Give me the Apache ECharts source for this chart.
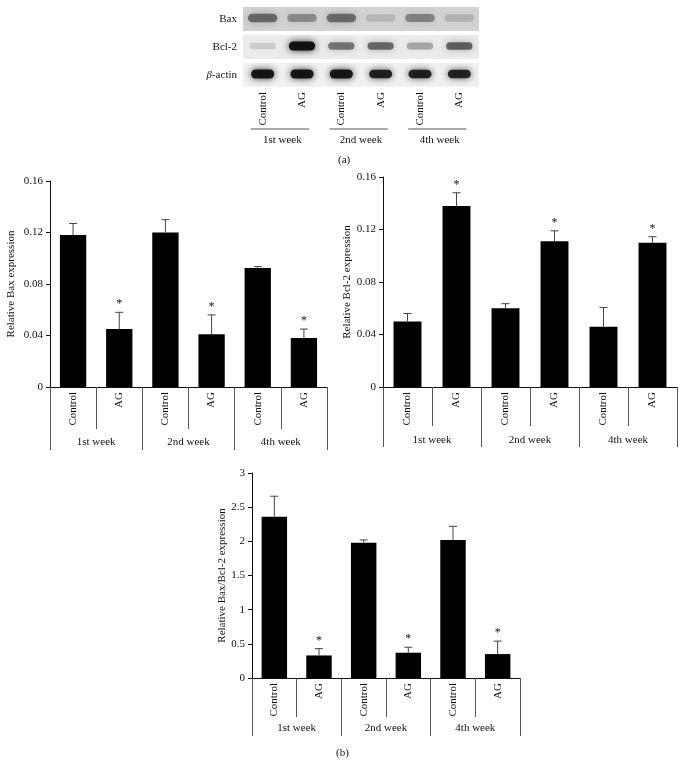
<!DOCTYPE html>
<html>
<head>
<meta charset="utf-8">
<script src="https://cdn.jsdelivr.net/npm/echarts@6/dist/echarts.min.js"></script>
<style>
  html, body { margin: 0; background: #fff; }
  #chart { width: 685px; height: 773px; }
</style>
</head>
<body>
<div id="chart"></div>
<script>
// lanes / groups shared by the blot and the three bar charts
const lanes = ["Control", "AG", "Control", "AG", "Control", "AG"];
const weeks = ["1st week", "2nd week", "4th week"];
const blotRows = ["Bax", "Bcl-2", "β-actin"];

// western blot band darkness (0..1), one value per lane
const baxBand = [0.5, 0.34, 0.48, 0.14, 0.38, 0.16];
const bclBand = [0.14, 0.98, 0.5, 0.55, 0.3, 0.58];
const actinBand = [0.95, 0.95, 0.95, 0.88, 0.9, 0.86];
const rowShade = ["#d2d2d2", "#ebebeb", "#f1f1f1"];

// bar heights and top of error bars
const baxMean = [0.118, 0.045, 0.120, 0.041, 0.0925, 0.038];
const baxErr = [0.127, 0.058, 0.130, 0.056, 0.0935, 0.045];
const bclMean = [0.050, 0.138, 0.060, 0.111, 0.046, 0.110];
const bclErr = [0.056, 0.148, 0.0635, 0.119, 0.0605, 0.1145];
const ratioMean = [2.36, 0.33, 1.98, 0.37, 2.02, 0.35];
const ratioErr = [2.66, 0.43, 2.02, 0.45, 2.22, 0.54];
const sig = [0, 1, 0, 1, 0, 1];

const SERIF = "Liberation Serif";
const INK = "#111";
const LINE = "#555";

const chart = echarts.init(document.getElementById("chart"), null, { renderer: "canvas" });

// grids: 0 blot, 1 Bax, 2 Bcl-2, 3 ratio
const grids = [
  { left: 243, top: 5, width: 236, height: 84 },
  { left: 50, top: 181, width: 277, height: 206 },
  { left: 383, top: 177, width: 294, height: 210 },
  { left: 252, top: 473, width: 268, height: 205 },
];

function laneAxis(gi, tickLen) {
  return {
    type: "category", gridIndex: gi, data: lanes, position: "bottom",
    axisLine: { show: true, lineStyle: { color: INK, width: 1 } },
    axisTick: { show: true, interval: 0, length: tickLen, lineStyle: { color: LINE } },
    axisLabel: { interval: 0, rotate: 90, margin: 5, color: INK, fontFamily: SERIF, fontSize: 11 },
    splitLine: { show: false },
  };
}
function weekAxis(gi, tickLen, margin) {
  return {
    type: "category", gridIndex: gi, data: weeks, position: "bottom",
    axisLine: { show: false },
    axisTick: { show: true, interval: 0, length: tickLen, lineStyle: { color: LINE } },
    axisLabel: { interval: 0, margin: margin, color: INK, fontFamily: SERIF, fontSize: 11 },
    splitLine: { show: false },
  };
}
function valueAxis(gi, max, interval, name, gap) {
  return {
    type: "value", gridIndex: gi, min: 0, max: max, interval: interval,
    name: name, nameLocation: "middle", nameGap: gap,
    nameTextStyle: { color: INK, fontFamily: SERIF, fontSize: 11 },
    axisLine: { show: true, lineStyle: { color: INK, width: 1 } },
    axisTick: { show: true, length: 4, lineStyle: { color: INK } },
    axisLabel: { color: INK, fontFamily: SERIF, fontSize: 11, margin: 7 },
    splitLine: { show: false },
  };
}

function errItem(params, api) {
  const i = api.value(0);
  const p0 = api.coord([i, api.value(1)]);
  const p1 = api.coord([i, api.value(2)]);
  const kids = [
    { type: "line", shape: { x1: p0[0], y1: p0[1], x2: p1[0], y2: p1[1] }, style: { stroke: "#444", lineWidth: 1 } },
    { type: "line", shape: { x1: p1[0] - 4, y1: p1[1], x2: p1[0] + 4, y2: p1[1] }, style: { stroke: "#444", lineWidth: 1 } },
  ];
  if (api.value(3)) {
    kids.push({ type: "text", x: p1[0], y: p1[1] - 2,
      style: { text: "*", align: "center", verticalAlign: "bottom", fontSize: 12, fontFamily: SERIF, fill: INK } });
  }
  return { type: "group", children: kids };
}

function barSet(xi, yi, mean, err) {
  return [
    { type: "bar", xAxisIndex: xi, yAxisIndex: yi, data: mean, barWidth: "57%",
      itemStyle: { color: "#000" }, silent: true, z: 2 },
    { type: "custom", xAxisIndex: xi, yAxisIndex: yi, renderItem: errItem, z: 3, silent: true,
      data: mean.map((v, i) => [i, v, err[i], sig[i]]) },
  ];
}

// blot cells
const bands = [baxBand, bclBand, actinBand];
const bandWidth = [0.9, 0.82, 0.74];
const bandHeight = [7, 6, 6];
const blotCells = [];
bands.forEach((row, r) => row.forEach((d, l) => blotCells.push([l, r, d])));

chart.setOption({
  animation: false,
  title: [
    { text: "(a)", left: 333, top: 150, textStyle: { fontFamily: SERIF, fontSize: 11, fontWeight: "normal", color: INK } },
    { text: "(b)", left: 331, top: 743, textStyle: { fontFamily: SERIF, fontSize: 11, fontWeight: "normal", color: INK } },
  ],
  grid: grids,
  xAxis: [
    { type: "category", gridIndex: 0, data: lanes, position: "bottom",
      axisLine: { show: false }, axisTick: { show: false },
      axisLabel: { interval: 0, rotate: 90, margin: 3, color: INK, fontFamily: SERIF, fontSize: 11 } },
    { type: "category", gridIndex: 0, data: weeks, position: "bottom",
      axisLine: { show: false }, axisTick: { show: false },
      axisLabel: { interval: 0, margin: 46, color: INK, fontFamily: SERIF, fontSize: 11 } },
    laneAxis(1, 42), weekAxis(1, 63, 50),
    laneAxis(2, 39), weekAxis(2, 60, 48),
    laneAxis(3, 39), weekAxis(3, 58, 45),
  ],
  yAxis: [
    { type: "category", gridIndex: 0, data: blotRows, inverse: true,
      axisLine: { show: false }, axisTick: { show: false },
      axisLabel: { margin: 6, color: INK, fontFamily: SERIF, fontSize: 11,
        formatter: (v) => v === "β-actin" ? "{i|β}-actin" : v,
        rich: { i: { fontStyle: "italic", fontFamily: SERIF, fontSize: 11, color: INK } } } },
    valueAxis(1, 0.16, 0.04, "Relative Bax expression", 33),
    valueAxis(2, 0.16, 0.04, "Relative Bcl-2 expression", 30),
    valueAxis(3, 3, 0.5, "Relative Bax/Bcl-2 expression", 22),
  ],
  series: [
    // blot row backgrounds
    { type: "custom", xAxisIndex: 0, yAxisIndex: 0, silent: true, z: 1,
      data: rowShade.map((c, r) => [0, r]),
      renderItem: (params, api) => {
        const r = api.value(1);
        const c = api.coord([0, r]);
        const h = api.size([1, 1])[1];
        const cs = params.coordSys;
        return { type: "rect", shape: { x: cs.x, y: c[1] - h / 2 + 2, width: cs.width, height: h - 4 },
          style: { fill: rowShade[r] } };
      } },
    // blot bands (soft smudges)
    { type: "custom", xAxisIndex: 0, yAxisIndex: 0, silent: true, z: 2, data: blotCells,
      renderItem: (params, api) => {
        const r = api.value(1);
        const c = api.coord([api.value(0), r]);
        const d = api.value(2);
        const w = api.size([1, 1])[0] * bandWidth[r];
        const h = bandHeight[r] + d * 3;
        const col = "rgba(10,10,10," + (d * 0.95).toFixed(2) + ")";
        return { type: "rect", shape: { x: c[0] - w / 2 + 3, y: c[1] - h / 2 - 1, width: w - 6, height: h, r: h / 2 },
          style: { fill: col, shadowBlur: 7, shadowColor: col } };
      } },
    // underlines below lane pairs
    { type: "custom", xAxisIndex: 1, yAxisIndex: 0, silent: true, clip: false, data: weeks.map((w, g) => [g, 2]),
      renderItem: (params, api) => {
        const c = api.coord([api.value(0), 2]);
        const gw = api.size([1, 0])[0];
        const y = params.coordSys.y + params.coordSys.height + 40;
        return { type: "line", shape: { x1: c[0] - gw * 0.4, y1: y, x2: c[0] + gw * 0.34, y2: y },
          style: { stroke: LINE, lineWidth: 1 } };
      } },
    ...barSet(2, 1, baxMean, baxErr),
    ...barSet(4, 2, bclMean, bclErr),
    ...barSet(6, 3, ratioMean, ratioErr),
  ],
});
window.addEventListener("resize", () => chart.resize());
</script>
</body>
</html>
